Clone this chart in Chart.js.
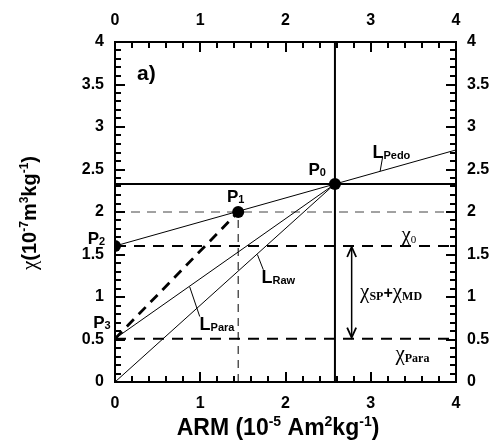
<!DOCTYPE html>
<html>
<head>
<meta charset="utf-8">
<script src="https://cdn.jsdelivr.net/npm/chart.js@4.4.1/dist/chart.umd.min.js"></script>
<style>
body{margin:0;background:#fff;}
</style>
</head>
<body>
<canvas id="myChart" width="495" height="440"></canvas>
<script>
// tick labels (same on both pairs of axes)
var xTickValues = [0, 1, 2, 3, 4];
var yTickValues = [0, 0.5, 1, 1.5, 2, 2.5, 3, 3.5, 4];

// key points, [ARM, chi]
var p0 = [2.58, 2.33];
var p1 = [1.445, 2.0];
var p2 = [0, 1.6];
var p3 = [0, 0.51];
var origin = [0, 0];
var lPedoEnd = [4, 2.73];

// reference levels
var chi0 = 1.6;
var chiPara = 0.51;
var arrowX = 2.776;

// short leader lines from the labels to their lines
var leaderPedo = [[3.14, 2.65], [3.11, 2.48]];
var leaderRaw = [[1.74, 1.32], [1.67, 1.50]];
var leaderPara = [[0.994, 0.77], [0.876, 1.12]];

var sans = '"Liberation Sans", Arial, sans-serif';
var serif = '"Liberation Serif", "Times New Roman", serif';

function pt(p) { return {x: p[0], y: p[1]}; }

function line(points, width, dash, color) {
    return {
        type: 'scatter',
        data: points.map(pt),
        showLine: true,
        borderColor: color || '#000',
        borderWidth: width,
        borderDash: dash || [],
        pointRadius: 0,
        fill: false,
        tension: 0
    };
}

var datasets = [
    {
        type: 'scatter',
        data: [p0, p1, p2].map(pt),
        showLine: false,
        pointRadius: 6,
        backgroundColor: '#000',
        borderWidth: 0
    },
    line([[0, p0[1]], [4, p0[1]]], 2),
    line([[p0[0], 0], [p0[0], 4]], 2),
    line([p2, lPedoEnd], 1),
    line([origin, p0], 1),
    line([p3, p0], 1),
    line([p3, p1], 2.8, [10, 7]),
    line([[0, chi0], [4, chi0]], 2, [11, 8]),
    line([[0, chiPara], [4, chiPara]], 2, [11, 8]),
    line([[0, p1[1]], [4, p1[1]]], 1, [9, 7], '#444'),
    line([[p1[0], 0], [p1[0], p1[1]]], 1, [8, 6]),
    line([[arrowX, chiPara + 0.02], [arrowX, chi0 - 0.02]], 1.5),
    line(leaderPedo, 1),
    line(leaderRaw, 1),
    line(leaderPara, 1)
];

function axis(pos, ticksArr, pad, size) {
    return {
        type: 'linear',
        position: pos,
        min: 0,
        max: 4,
        grid: {display: false, drawTicks: false},
        border: {display: true, color: '#000', width: 2},
        ticks: {
            color: '#000',
            font: {family: sans, size: 16, weight: 'bold'},
            padding: pad,
            autoSkip: false,
            maxRotation: 0,
            callback: function(v) { return String(v); }
        },
        afterBuildTicks: function(s) {
            s.ticks = ticksArr.map(function(v) { return {value: v}; });
        },
        afterFit: function(s) {
            if (pos == 'left' || pos == 'right') s.width = size;
            else s.height = size;
        }
    };
}

// draw text made of pieces with their own font and vertical shift
function runs(ctx, parts, x, y, align) {
    var w = 0;
    parts.forEach(function(p) { ctx.font = p[1]; w += ctx.measureText(p[0]).width; });
    var cx = align == 'center' ? x - w / 2 : x;
    parts.forEach(function(p) {
        ctx.font = p[1];
        ctx.fillText(p[0], cx, y + (p[2] || 0));
        cx += ctx.measureText(p[0]).width;
    });
}

var B17 = 'bold 17px ' + sans, B11 = 'bold 11px ' + sans, B18 = 'bold 18px ' + sans;
var CHI = '21px ' + serif, SUB = 'bold 12px ' + serif;
var labels = [
    {at: [0.259, 3.553], parts: [['a)', 'bold 21px ' + sans]]},
    {at: [2.27, 2.44], parts: [['P', B17], ['0', B11, 1]]},
    {at: [1.314, 2.121], parts: [['P', B17], ['1', B11, 1]]},
    {at: [-0.32, 1.624], parts: [['P', B17], ['2', B11, 1]]},
    {at: [-0.255, 0.632], parts: [['P', B17], ['3', B11, 1]]},
    {at: [3.02, 2.631], parts: [['L', B18], ['Pedo', B11, 1]]},
    {at: [1.718, 1.161], parts: [['L', B18], ['Raw', B11, 1]]},
    {at: [0.992, 0.612], parts: [['L', B18], ['Para', B11, 1]]},
    {at: [3.36, 1.66], parts: [['χ', CHI], ['0', '11px ' + serif, 2]]},
    {at: [2.875, 0.99], parts: [['χ', CHI], ['SP', SUB, 2],
        ['+', 'bold 16px ' + sans], ['χ', CHI], ['MD', SUB, 2]]},
    {at: [3.29, 0.255], parts: [['χ', CHI], ['Para', SUB, 2]]}
];

var decorations = {
    id: 'decorations',
    afterDraw: function(chart) {
        var ctx = chart.ctx;
        var xs = chart.scales.x, ys = chart.scales.y;
        var a = chart.chartArea;
        ctx.save();
        ctx.strokeStyle = '#000';
        ctx.fillStyle = '#000';
        ctx.lineWidth = 2;
        ctx.beginPath();
        // inward ticks on all four sides
        for (var i = 0; i <= 20; i++) {
            var px = Math.round(xs.getPixelForValue(i * 0.2));
            var len = i % 5 == 0 ? 10 : 6;
            ctx.moveTo(px, a.bottom); ctx.lineTo(px, a.bottom - len);
            ctx.moveTo(px, a.top); ctx.lineTo(px, a.top + len);
        }
        for (var j = 0; j <= 40; j++) {
            var py = Math.round(ys.getPixelForValue(j * 0.1));
            var l2 = j % 5 == 0 ? 10 : 6;
            ctx.moveTo(a.left, py); ctx.lineTo(a.left + l2, py);
            ctx.moveTo(a.right, py); ctx.lineTo(a.right - l2, py);
        }
        ctx.stroke();

        // arrow heads
        var ax = xs.getPixelForValue(arrowX);
        var top = ys.getPixelForValue(chi0), bot = ys.getPixelForValue(chiPara);
        ctx.lineWidth = 1.8;
        ctx.beginPath();
        ctx.moveTo(ax - 4.5, top + 11); ctx.lineTo(ax, top + 1); ctx.lineTo(ax + 4.5, top + 11);
        ctx.moveTo(ax - 4.5, bot - 11); ctx.lineTo(ax, bot - 1); ctx.lineTo(ax + 4.5, bot - 11);
        ctx.stroke();

        ctx.textAlign = 'left';
        ctx.textBaseline = 'alphabetic';
        labels.forEach(function(lb) {
            runs(ctx, lb.parts, xs.getPixelForValue(lb.at[0]), ys.getPixelForValue(lb.at[1]), 'left');
        });

        // axis titles
        var X23 = 'bold 23px ' + sans, X14 = 'bold 14px ' + sans;
        runs(ctx, [['ARM (10', X23], ['-5', X14, -9], [' Am', X23], ['2', X14, -9],
            ['kg', X23], ['-1', X14, -9], [')', X23]], 278, 435, 'center');

        var Y20 = 'bold 20px ' + sans, Y12 = 'bold 12px ' + sans;
        ctx.translate(36, 213);
        ctx.rotate(-Math.PI / 2);
        runs(ctx, [['χ', '21px ' + serif], ['(10', Y20], ['-7', Y12, -8], ['m', Y20], ['3', Y12, -8],
            ['kg', Y20], ['-1', Y12, -8], [')', Y20]], 0, 0, 'center');
        ctx.restore();
    }
};

var ctx = document.getElementById("myChart").getContext("2d");
var myChart = new Chart(ctx, {
    type: 'scatter',
    data: {datasets: datasets},
    options: {
        responsive: false,
        animation: false,
        events: [],
        layout: {padding: 0},
        plugins: {legend: {display: false}, tooltip: {enabled: false}},
        scales: {
            x: axis('bottom', xTickValues, 12, 58),
            x2: axis('top', xTickValues, 11.5, 42),
            y: axis('left', yTickValues, 11, 115),
            y2: axis('right', yTickValues, 11, 39)
        }
    },
    plugins: [decorations]
});
</script>
</body>
</html>
